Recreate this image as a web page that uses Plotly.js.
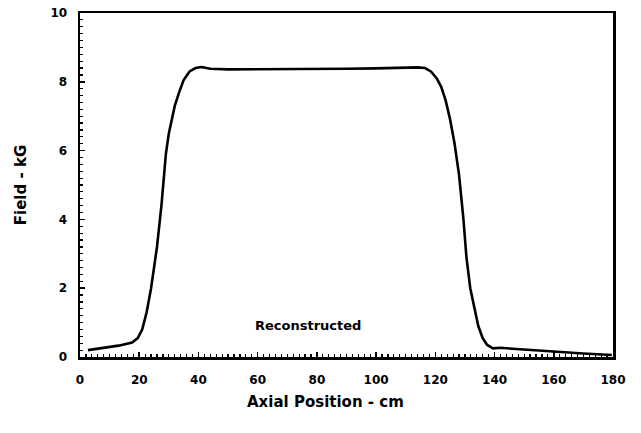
<!DOCTYPE html>
<html><head><meta charset="utf-8">
<script src="https://cdn.plot.ly/plotly-3.0.1.min.js"></script>
<style>html,body{margin:0;padding:0;background:#fff;}#chart{width:641px;height:433px;}</style>
</head><body><div id="chart"></div>
<script>
const axialPosition = [2.7, 8, 13, 17.6, 19.5, 21, 22.5, 24, 25, 26, 27.5, 29, 30, 31, 32, 33.5, 35, 37, 39, 41, 44, 50, 60, 70, 80, 90, 100, 110, 114, 116.5, 118.5, 120.5, 122, 123.5, 125, 126.5, 128, 129.5, 130.5, 131.8, 133, 134.5, 136, 137.5, 139.5, 142, 146, 152, 160, 170, 179.6];
const field = [0.2, 0.27, 0.33, 0.42, 0.55, 0.8, 1.3, 2.0, 2.6, 3.2, 4.4, 5.9, 6.5, 6.95, 7.3, 7.7, 8.05, 8.3, 8.4, 8.43, 8.38, 8.36, 8.36, 8.36, 8.37, 8.38, 8.39, 8.4, 8.42, 8.4, 8.3, 8.1, 7.85, 7.45, 6.9, 6.2, 5.3, 4.0, 2.9, 2.0, 1.5, 0.9, 0.55, 0.35, 0.25, 0.27, 0.24, 0.2, 0.15, 0.1, 0.06];
const xTicks = [0, 20, 40, 60, 80, 100, 120, 140, 160, 180];
const yTicks = [0, 2, 4, 6, 8, 10];
const curveLabel = "Reconstructed";
const xTitle = "Axial Position - cm";
const yTitle = "Field - kG";

const fontFam = "DejaVu Sans, Liberation Sans, Arial, sans-serif";
const tickFont = {family: fontFam, size: 12, color: "#000", weight: "bold"};
const titleFont = {family: fontFam, size: 15, color: "#000", weight: "bold"};
const traces = [{
  x: axialPosition, y: field, type: "scatter", mode: "lines",
  line: {color: "#000", width: 2.6}, hoverinfo: "skip"
}];
const layout = {
  width: 641, height: 433,
  margin: {l: 80, r: 28, t: 13, b: 76},
  paper_bgcolor: "#fff", plot_bgcolor: "#fff",
  showlegend: false,
  xaxis: {
    range: [0, 180], tickvals: xTicks, ticktext: xTicks.map(String),
    showgrid: false, zeroline: false, showline: true, linecolor: "#000", linewidth: 2.5,
    mirror: true, ticks: "inside", ticklen: 5, tickwidth: 1.5, tickcolor: "#000",
    minor: {dtick: 2, ticks: "inside", ticklen: 3, tickwidth: 1.2, tickcolor: "#000", showgrid: false},
    tickfont: tickFont, ticklabelstandoff: 10
  },
  yaxis: {
    range: [0, 10], tickvals: yTicks, ticktext: yTicks.map(String),
    showgrid: false, zeroline: false, showline: true, linecolor: "#000", linewidth: 2.5,
    mirror: true, ticks: "inside", ticklen: 5, tickwidth: 1.5, tickcolor: "#000",
    minor: {dtick: 0.2, ticks: "inside", ticklen: 3, tickwidth: 1.2, tickcolor: "#000", showgrid: false},
    tickfont: tickFont, ticklabelstandoff: 8,
    title: {text: yTitle, font: titleFont, standoff: 20}
  },
  annotations: [{
    x: 77, y: 0.93, xref: "x", yref: "y", text: curveLabel, showarrow: false,
    font: {family: fontFam, size: 13, color: "#000", weight: "bold"}
  }, {
    x: 0.46, y: -0.131, xref: "paper", yref: "paper", xanchor: "center", yanchor: "middle",
    text: xTitle, showarrow: false, font: titleFont
  }]
};
Plotly.newPlot("chart", traces, layout, {displayModeBar: false, staticPlot: true});
</script>
</body></html>
